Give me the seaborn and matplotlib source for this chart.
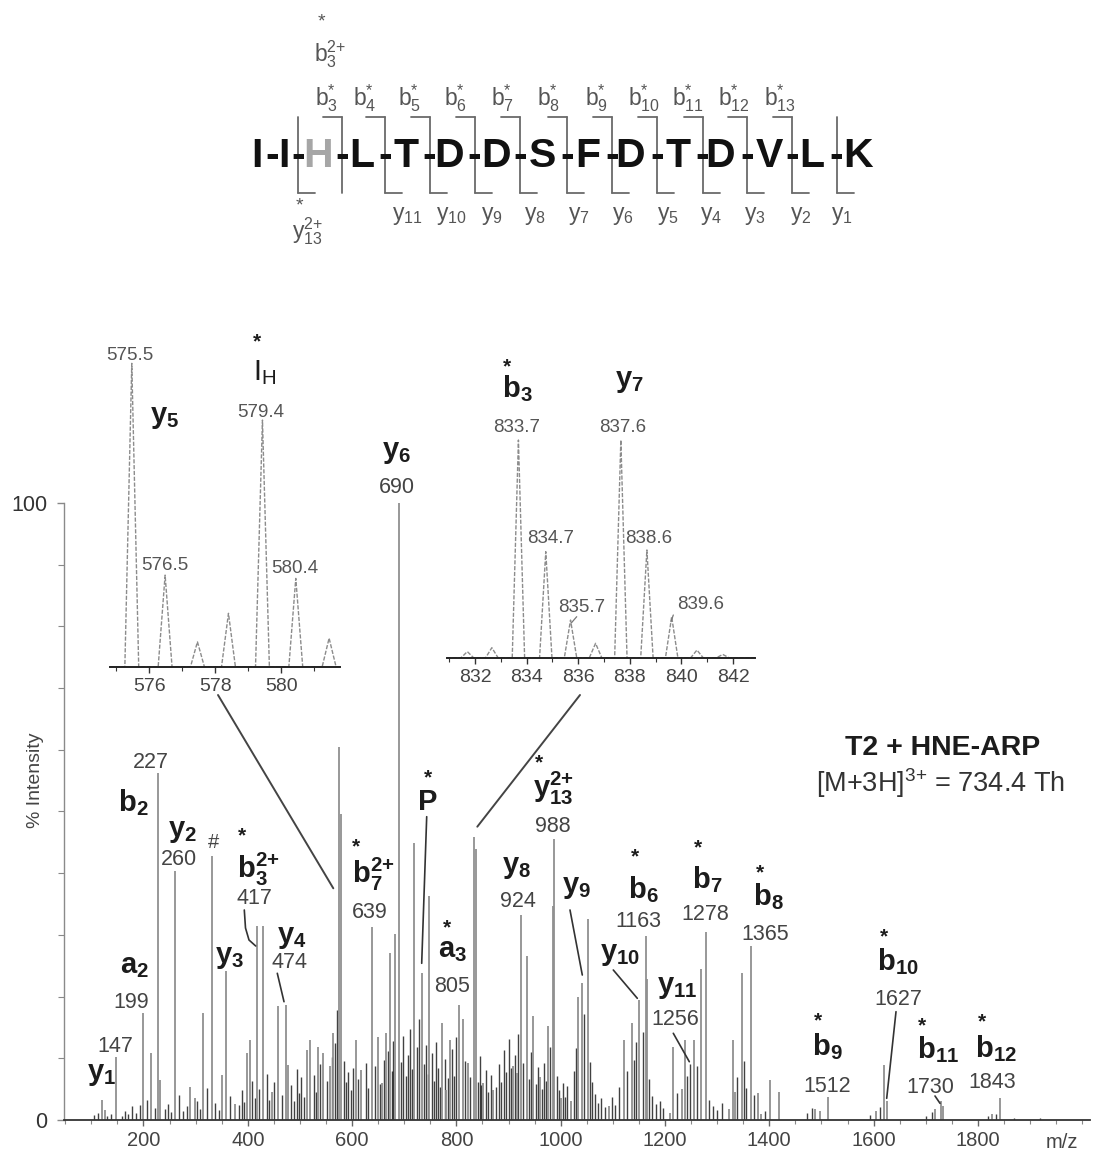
import numpy as np
import pandas as pd
import matplotlib
matplotlib.use("Agg")
import matplotlib.pyplot as plt
import matplotlib.ticker as mticker
import seaborn as sns

# ---------------- data ----------------
peak_mz = [120, 126, 147, 199, 214, 227, 232, 260, 289, 298,
           315, 331, 350, 359, 375, 398, 404, 417, 429, 446,
           458, 474, 478, 513, 519, 535, 545, 558, 564, 575,
           579, 608, 618, 639, 650, 657, 665, 673, 682, 690,
           719, 734, 748, 772, 781, 788, 805, 813, 823, 834,
           838, 852, 871, 909, 916, 924, 936, 947, 960, 976,
           986, 988, 1000, 1020, 1034, 1040, 1052, 1093, 1121, 1136,
           1150, 1163, 1166, 1209, 1216, 1232, 1238, 1256, 1270, 1278,
           1322, 1331, 1335, 1347, 1365, 1379, 1385, 1401, 1418, 1488,
           1497, 1512, 1604, 1620, 1626, 1717, 1730, 1733, 1827, 1843]
peak_int = [3.3, 1.6, 10.2, 17.4, 10.8, 56.3, 6.5, 40.4, 5.4, 3.6,
            17.3, 42.8, 7.3, 24.1, 2.6, 10.8, 13.0, 31.5, 31.5, 4.6,
            18.4, 18.7, 8.9, 11.4, 13.0, 11.9, 10.8, 8.7, 14.1, 60.4,
            49.6, 13.0, 8.1, 31.2, 13.5, 6.0, 14.1, 27.1, 30.1, 100.0,
            44.9, 23.9, 36.3, 15.7, 4.9, 13.0, 18.7, 16.3, 9.2, 45.8,
            44.0, 6.0, 4.9, 8.7, 7.6, 33.3, 26.6, 16.8, 7.0, 15.2,
            34.7, 45.5, 3.5, 3.0, 20.0, 22.2, 32.6, 2.3, 13.0, 15.7,
            19.5, 29.8, 22.8, 1.2, 11.9, 5.1, 13.0, 13.0, 24.4, 30.4,
            1.8, 13.0, 4.6, 23.9, 28.2, 4.3, 1.0, 6.5, 4.5, 1.8,
            1.5, 3.8, 1.5, 8.9, 3.0, 1.8, 3.0, 2.3, 1.0, 3.5]

minor_mz = [105, 112, 131, 138, 158, 165, 171, 178, 185, 193,
            207, 222, 241, 247, 252, 268, 275, 283, 303, 309,
            322, 338, 344, 366, 383, 389, 393, 409, 413, 422,
            436, 441, 451, 466, 483, 489, 494, 499, 503, 508,
            527, 531, 539, 552, 561, 568, 571, 584, 589, 593,
            597, 602, 612, 626, 631, 644, 654, 661, 669, 676,
            679, 694, 698, 703, 707, 711, 714, 724, 728, 737,
            741, 745, 753, 757, 761, 765, 768, 778, 784, 791,
            795, 799, 817, 827, 842, 845, 848, 856, 861, 866,
            876, 881, 886, 891, 895, 900, 904, 913, 919, 928,
            940, 944, 952, 956, 964, 968, 972, 980, 992, 996,
            1004, 1008, 1013, 1025, 1029, 1045, 1056, 1061, 1066, 1072,
            1078, 1085, 1099, 1105, 1112, 1128, 1140, 1145, 1157, 1170,
            1176, 1182, 1190, 1197, 1224, 1243, 1248, 1262, 1285, 1292,
            1300, 1310, 1339, 1352, 1356, 1371, 1392, 1473, 1481, 1593,
            1612, 1700, 1712, 1820, 1835, 1870, 1920]
minor_int = [0.8, 1.2, 0.7, 1.0, 0.6, 1.4, 0.9, 2.2, 1.1, 2.5,
             3.2, 2.0, 1.8, 2.6, 1.3, 4.1, 1.5, 2.2, 3.0, 1.8,
             5.2, 2.7, 1.6, 3.9, 2.4, 4.8, 2.9, 6.3, 3.5, 5.1,
             7.4, 3.3, 6.2, 4.0, 5.6, 3.1, 8.2, 4.4, 6.9, 3.8,
             7.3, 4.6, 9.1, 6.4, 10.2, 12.5, 17.8, 9.6, 6.1, 7.7,
             4.9, 8.4, 6.6, 9.3, 5.2, 8.8, 5.9, 9.7, 11.2, 7.9,
             12.8, 9.4, 13.6, 7.2, 10.5, 14.8, 8.3, 11.9, 16.4, 9.0,
             12.2, 7.5, 10.8, 6.3, 12.7, 8.5, 5.4, 9.9, 6.8, 11.5,
             7.1, 13.4, 9.6, 7.0, 6.1, 10.3, 5.7, 8.1, 4.6, 7.3,
             5.3, 9.0, 6.2, 11.4, 7.7, 13.1, 8.4, 10.6, 14.0, 9.2,
             6.7, 11.1, 5.8, 8.6, 5.0, 9.3, 6.4, 11.8, 7.2, 4.9,
             6.0, 3.8, 5.5, 8.0, 11.6, 17.2, 9.4, 6.1, 4.2, 2.8,
             3.5, 2.1, 3.7, 2.4, 5.3, 7.9, 9.8, 12.6, 14.2, 6.6,
             3.9, 2.6, 3.1, 1.9, 4.4, 7.2, 9.1, 8.7, 3.2, 2.2,
             1.6, 2.7, 6.9, 9.6, 5.2, 4.0, 1.5, 1.2, 2.0, 0.8,
             2.1, 0.7, 1.3, 0.6, 1.0, 0.4, 0.3]

# inset isotope clusters (m/z, relative intensity %)
inset1_mz = [575.47, 576.48, 577.46, 578.40, 579.43, 580.44, 581.45]
inset1_int = [100.0, 30.2, 8.2, 17.6, 81.3, 29.1, 9.4]
inset2_mz = [831.70, 832.65, 833.68, 834.74, 835.70, 836.67, 837.65, 838.66, 839.62, 840.60, 841.60]
inset2_int = [2.8, 4.6, 100.0, 48.7, 17.3, 6.6, 100.0, 49.5, 18.8, 3.5, 1.5]

x_ticks_main = [200, 400, 600, 800, 1000, 1200, 1400, 1600, 1800]
inset1_ticks = [576, 578, 580]
inset2_ticks = [832, 834, 836, 838, 840, 842]

sequence = ["I", "-", "I", "-", "H", "-", "L", "-", "T", "-", "D", "-", "D", "-", "S",
            "-", "F", "-", "D", "-", "T", "-", "D", "-", "V", "-", "L", "-", "K"]

assert len(peak_mz) == len(peak_int)
assert len(minor_mz) == len(minor_int)

# ---------------- style ----------------
sns.set_theme(style="ticks")
plt.rcParams['font.family'] = ['Liberation Sans', 'DejaVu Sans']
plt.rcParams['mathtext.fontset'] = 'custom'
plt.rcParams['mathtext.rm'] = 'Liberation Sans'
plt.rcParams['mathtext.it'] = 'Liberation Sans:italic'
plt.rcParams['mathtext.bf'] = 'Liberation Sans:bold'
plt.rcParams['mathtext.default'] = 'regular'

W, H = 1099, 1156
fig = plt.figure(figsize=(W / 100, H / 100), dpi=100)
fig.patch.set_facecolor("white")


def frac_x(px):
    return px / W


def frac_y(py):
    return 1 - py / H


# ---------------- main spectrum ----------------
ax = fig.add_axes([frac_x(64), frac_y(1120), (1090 - 64) / W, (1120 - 503) / H])
ax.set_facecolor("none")
main_df = pd.DataFrame({"mz": peak_mz, "intensity": peak_int})
minor_df = pd.DataFrame({"mz": minor_mz, "intensity": minor_int})
ax.vlines(minor_df["mz"], 0, minor_df["intensity"], colors="#111111", lw=1.0, alpha=0.8)
ax.vlines(main_df["mz"], 0, main_df["intensity"], colors="#909090", lw=1.3)
ax.set_xlim(47.6, 2015)
ax.set_ylim(0, 100)
for s in ["top", "right"]:
    ax.spines[s].set_visible(False)
ax.spines["left"].set_color("#8a8a8a")
ax.spines["left"].set_linewidth(1.0)
ax.spines["bottom"].set_color("#333333")
ax.spines["bottom"].set_linewidth(1.3)
ax.set_xticks(x_ticks_main)
ax.xaxis.set_minor_locator(mticker.MultipleLocator(50))
ax.set_yticks([0, 100])
ax.yaxis.set_minor_locator(mticker.MultipleLocator(10))
ax.tick_params(axis="x", which="major", direction="out", length=4, width=1, color="#666",
               labelsize=14.5, labelcolor="#444", pad=4)
ax.tick_params(axis="x", which="minor", direction="out", length=3, width=0.8, color="#888")
ax.tick_params(axis="y", which="major", direction="out", length=5, width=1, color="#888",
               labelsize=15.5, labelcolor="#333", pad=7)
ax.tick_params(axis="y", which="minor", direction="out", length=4, width=0.8, color="#888")
ax.set_xlabel("")
ax.set_ylabel("")


# ---------------- insets ----------------
def build_profile(mzs, ints, lo, hi, half_width):
    xs, ys = [lo], [0.0]
    for c, h in zip(mzs, ints):
        xs += [c - half_width, c, c + half_width]
        ys += [0.0, h, 0.0]
    xs.append(hi)
    ys.append(0.0)
    return pd.DataFrame({"mz": xs, "intensity": ys})


def style_inset(a, ticks):
    a.set_facecolor("none")
    for s in ["top", "right", "left"]:
        a.spines[s].set_visible(False)
    a.spines["bottom"].set_color("#222")
    a.spines["bottom"].set_linewidth(1.4)
    a.set_yticks([])
    a.set_xticks(ticks)
    a.xaxis.set_minor_locator(mticker.MultipleLocator(1))
    a.tick_params(axis="x", which="major", direction="out", length=4, width=1, color="#333",
                  labelsize=14, labelcolor="#444", pad=4)
    a.tick_params(axis="x", which="minor", direction="out", length=3, width=0.8, color="#333")
    a.set_xlabel("")
    a.set_ylabel("")


ins1 = fig.add_axes([frac_x(110), frac_y(666.7), 230 / W, 326.7 / H])
ins1_lo, ins1_hi = 574.81, 581.78
prof1 = build_profile(inset1_mz, inset1_int, ins1_lo, ins1_hi, 0.21)
sns.lineplot(data=prof1, x="mz", y="intensity", ax=ins1, sort=False, estimator=None,
             color="#8c8c8c", lw=1.0, linestyle=(0, (3, 1.2)))
ins1.set_xlim(ins1_lo, ins1_hi)
ins1.set_ylim(0, 107.7)
style_inset(ins1, inset1_ticks)

ins2 = fig.add_axes([frac_x(446.7), frac_y(657.7), 308.3 / W, 237.7 / H])
ins2_lo, ins2_hi = 830.9, 842.85
prof2 = build_profile(inset2_mz, inset2_int, ins2_lo, ins2_hi, 0.24)
sns.lineplot(data=prof2, x="mz", y="intensity", ax=ins2, sort=False, estimator=None,
             color="#8c8c8c", lw=1.0, linestyle=(0, (3, 1.2)))
ins2.set_xlim(ins2_lo, ins2_hi)
ins2.set_ylim(0, 109.2)
style_inset(ins2, inset2_ticks)

# ---------------- overlay for annotations ----------------
ov = fig.add_axes([0, 0, 1, 1])
ov.set_xlim(0, W)
ov.set_ylim(H, 0)
ov.axis("off")
ov.set_facecolor("none")

ION = dict(fontsize=21, fontweight="bold", color="#1c1c1c", ha="left", va="baseline")
NUM = dict(fontsize=15.5, color="#444444", ha="center", va="baseline")
INS = dict(fontsize=13.5, color="#555555", ha="center", va="baseline")
STAR = dict(fontsize=15, fontweight="bold", color="#1c1c1c", ha="center", va="center")


def ion(x, y, s):
    ov.text(x, y, s, **ION)


def num(x, y, s, **kw):
    d = dict(NUM)
    d.update(kw)
    ov.text(x, y, s, **d)


def star(x, y, **kw):
    d = dict(STAR)
    d.update(kw)
    ov.text(x, y, "*", **d)


def line(xs, ys, **kw):
    d = dict(color="#333333", lw=1.2)
    d.update(kw)
    ov.plot(xs, ys, **d)


# bold ion labels
ion(86.7, 1080, r"$\mathregular{y_1}$")
ion(120, 973.3, r"$\mathregular{a_2}$")
ion(118.3, 811.7, r"$\mathregular{b_2}$")
ion(168.3, 836.7, r"$\mathregular{y_2}$")
ion(236.7, 878, r"$\mathregular{b_3^{2{+}}}$")
ion(215, 963.3, r"$\mathregular{y_3}$")
ion(276.7, 943.3, r"$\mathregular{y_4}$")
ion(351.7, 883.3, r"$\mathregular{b_7^{2{+}}}$")
ion(418.3, 810, "P")
ion(438.3, 956.7, r"$\mathregular{a_3}$")
ion(533.3, 796.7, r"$\mathregular{y_{13}^{2{+}}}$")
ion(501.7, 873.3, r"$\mathregular{y_8}$")
ion(561.7, 893.3, r"$\mathregular{y_9}$")
ion(628.3, 898.3, r"$\mathregular{b_6}$")
ion(600, 960, r"$\mathregular{y_{10}}$")
ion(656.7, 993.3, r"$\mathregular{y_{11}}$")
ion(691.7, 888.3, r"$\mathregular{b_7}$")
ion(753.3, 905, r"$\mathregular{b_8}$")
ion(876.7, 970, r"$\mathregular{b_{10}}$")
ion(811.7, 1055, r"$\mathregular{b_9}$")
ion(916.7, 1058.3, r"$\mathregular{b_{11}}$")
ion(975, 1056.7, r"$\mathregular{b_{12}}$")
ion(150, 423.3, r"$\mathregular{y_5}$")
ion(381.7, 458.3, r"$\mathregular{y_6}$")
ion(501.7, 396.7, r"$\mathregular{b_3}$")
ion(615, 386.7, r"$\mathregular{y_7}$")
ov.text(253.3, 380, r"$\mathregular{I_H}$", fontsize=21, color="#1c1c1c", ha="left", va="baseline")

# stars
for sx, sy in [(242.3, 836.3), (356, 846.7), (427.7, 778.3), (446.7, 928.3), (539, 763),
               (635, 857.3), (698.3, 848.3), (760, 872.7), (884, 937.3), (818.3, 1020.7),
               (921.7, 1026), (981.7, 1021.7), (507.3, 366.7), (256.7, 342)]:
    star(sx, sy)

# m/z numbers
num(115, 1051.7, "147")
num(130.7, 1008.3, "199")
num(150.7, 768.3, "227")
num(179, 865, "260")
num(214, 848.3, "#", fontsize=14.5)
num(254, 903.5, "417")
num(290, 968.3, "474")
num(369.3, 918.3, "639")
num(451.7, 991.7, "805")
num(553.3, 831.7, "988")
num(518.3, 906.7, "924")
num(638.3, 926.7, "1163")
num(675, 1025, "1256")
num(705, 920, "1278")
num(765, 940, "1365")
num(898.3, 1005, "1627")
num(826.7, 1091.7, "1512")
num(930, 1092.7, "1730")
num(991.7, 1088.3, "1843")
num(396.7, 493.3, "690")

# inset peak labels
for xx, yy, s in [(130, 360, "575.5"), (165, 570, "576.5"), (260.7, 416.7, "579.4"),
                  (295, 573.3, "580.4"), (516.7, 431.7, "833.7"), (551, 543.3, "834.7"),
                  (581.7, 611.7, "835.7"), (622.3, 431.7, "837.6"), (648.3, 543.3, "838.6"),
                  (701, 609.3, "839.6")]:
    ov.text(xx, yy, s, **INS)

# leader lines
line([218, 333.3], [695, 888.3], lw=1.4, color="#444")
line([580, 477.3], [695, 826.7], lw=1.4, color="#444")
line([244.3, 245.5, 249, 255.7], [910, 928, 940, 946])
line([277.3, 284], [973.3, 1001.7])
line([426.7, 421.7], [816.7, 963.3])
line([570, 582.3], [910, 975])
line([613.3, 637.3], [970, 998.3])
line([673.3, 689.3], [1033.3, 1061.7])
line([896, 886.7], [1011.7, 1098.3])
line([935, 940], [1096, 1103.3])
line([576.7, 571], [616.7, 623.3], lw=0.9, color="#777")
line([673.3, 671], [615, 621.7], lw=0.9, color="#777")

# right side text
ov.text(845, 755, "T2 + HNE-ARP", fontsize=20.5, fontweight="bold", color="#1c1c1c",
        ha="left", va="baseline")
ov.text(816, 791.7, r"[M+3H]$^{3{+}}$ = 734.4 Th", fontsize=19.5, color="#333333",
        ha="left", va="baseline")

# axis labels
ov.text(35, 780, "% Intensity", fontsize=14, color="#444", rotation=90, ha="center", va="center")
ov.text(1062, 1142, "m/z", fontsize=14.5, color="#444", ha="center", va="center")

# ---------------- peptide sequence ----------------
seq_x = [257, 272.5, 284, 297.7, 318, 342, 362, 385, 405.6, 429.6, 449, 474.6, 496, 520.4, 543,
         567, 588, 611.7, 630.5, 656.7, 677.6, 702.5, 720, 747, 769, 792, 811.7, 836.6, 858.4]
for xx, ch in zip(seq_x, sequence):
    col = "#a6a6a6" if ch == "H" else "#111111"
    ov.text(xx, 166.7, ch, fontsize=29.5, fontweight="bold", color=col, ha="center", va="baseline")

boundaries = [297.7, 342, 385, 429.6, 474.6, 520.4, 567, 611.7, 656.7, 702.5, 747, 792, 836.6]
b_obs = [False, True, True, True, True, True, True, True, True, True, True, True, False]
y_obs = [True, False, True, True, True, True, True, True, True, True, True, True, True]
for bx, hb, hy in zip(boundaries, b_obs, y_obs):
    line([bx, bx], [117, 193], color="#6a6a6a", lw=1.3)
    if hb:
        line([bx - 19, bx], [117, 117], color="#6a6a6a", lw=1.3)
    if hy:
        line([bx, bx + 17], [193, 193], color="#6a6a6a", lw=1.3)

SEQ = dict(fontsize=16.5, color="#555555", ha="left", va="baseline")
b_lab_x = [315.2, 353.2, 398.2, 443.6, 490.7, 536.6, 584.6, 628.3, 672, 717.8, 763.7]
for i, xx in enumerate(b_lab_x):
    ov.text(xx, 105, r"$\mathregular{b_{%d}^{*}}$" % (i + 3), **SEQ)
ov.text(313.9, 61.7, r"$\mathregular{b_{3}^{2{+}}}$", **SEQ)
ov.text(321.3, 22, "*", fontsize=14, color="#555", ha="center", va="center")

y_lab_x = [392.5, 436, 481, 523.5, 568.5, 612, 656.7, 700.3, 744, 789.9, 831.4]
for i, xx in enumerate(y_lab_x):
    ov.text(xx, 220, r"$\mathregular{y_{%d}}$" % (11 - i), **SEQ)
ov.text(292, 238.3, r"$\mathregular{y_{13}^{2{+}}}$", **SEQ)
ov.text(299, 206, "*", fontsize=14, color="#555", ha="center", va="center")

fig.savefig("out.png", dpi=100, facecolor="white")
